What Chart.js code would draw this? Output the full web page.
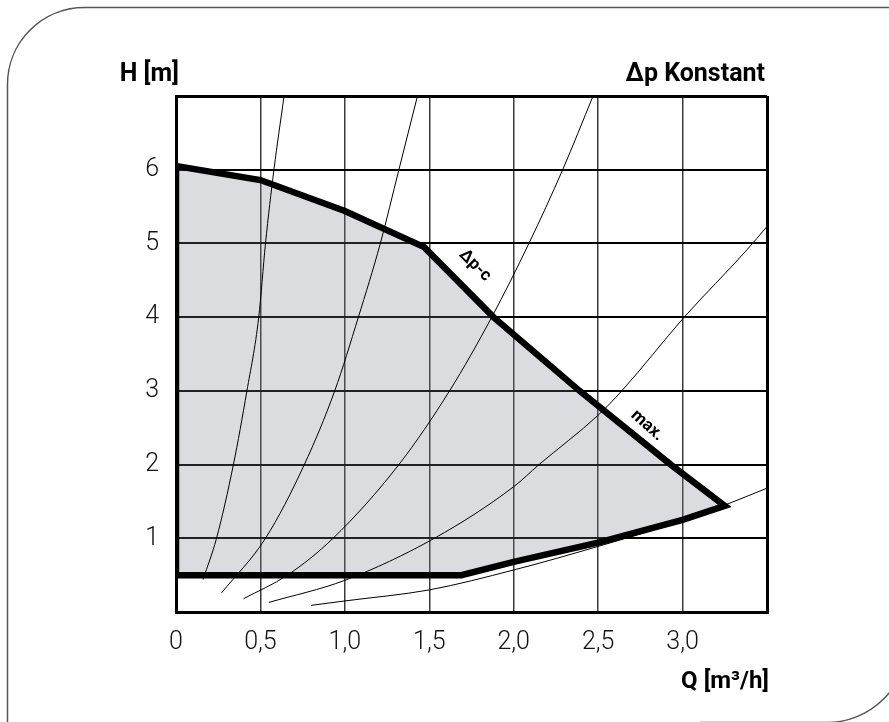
<!DOCTYPE html>
<html lang="de">
<head>
<meta charset="UTF-8">
<title>Δp Konstant</title>
<script src="https://cdn.jsdelivr.net/npm/chart.js"></script>
<style>
  html, body { margin: 0; padding: 0; background: #fff; }
  #wrap { width: 889px; height: 722px; }
</style>
</head>
<body>
<div id="wrap"><canvas id="pumpChart" width="889" height="722"></canvas></div>
<script>
// Kennlinienfeld (Q in m³/h, H in m)
const envelopeQ = [0, 0, 0.5, 1.0, 1.47, 1.88, 2.39, 2.93, 3.25, 3.0, 2.5, 2.0, 1.69, 0];
const envelopeH = [0.5, 6.05, 5.86, 5.44, 4.95, 4.0, 3.0, 2.0, 1.44, 1.25, 0.94, 0.68, 0.5, 0.5];

// Anlagenkennlinien
const curveAQ = [0.16, 0.24, 0.34, 0.42, 0.49, 0.53, 0.58, 0.64];
const curveAH = [0.44, 1.0, 2.0, 3.0, 4.0, 5.0, 6.0, 7.0];
const curveBQ = [0.27, 0.53, 0.76, 0.94, 1.08, 1.21, 1.32, 1.43];
const curveBH = [0.26, 1.0, 2.0, 3.0, 4.0, 5.0, 6.0, 7.0];
const curveCQ = [0.40, 0.66, 0.93, 1.32, 1.62, 1.87, 2.09, 2.29, 2.47];
const curveCH = [0.18, 0.5, 1.0, 2.0, 3.0, 4.0, 5.0, 6.0, 7.0];
const curveDQ = [0.55, 1.0, 1.53, 2.0, 2.15, 2.5, 2.64, 3.01, 3.38, 3.5];
const curveDH = [0.13, 0.43, 1.0, 1.7, 2.0, 2.67, 3.0, 4.0, 4.91, 5.23];
const curveEQ = [0.80, 1.0, 1.5, 2.0, 2.5, 3.0, 3.25, 3.5];
const curveEH = [0.09, 0.15, 0.30, 0.57, 0.89, 1.24, 1.45, 1.68];

const xTicks = [0, 0.5, 1.0, 1.5, 2.0, 2.5, 3.0];
const yTicks = [1, 2, 3, 4, 5, 6];
const curveLabels = ['Δp-c', 'max.'];

const FONT = "Roboto, 'Liberation Sans', sans-serif";

const pts = (qs, hs) => qs.map((q, i) => ({ x: q, y: hs[i] }));
const thin = (qs, hs) => ({
    data: pts(qs, hs),
    borderColor: '#000',
    borderWidth: 1,
    pointRadius: 0,
    fill: false,
    tension: 0.4,
    cubicInterpolationMode: 'monotone',
    order: 2
});

// rounded frame around the whole sheet
const framePlugin = {
    id: 'frame',
    beforeDraw(chart) {
        const c = chart.ctx;
        c.save();
        c.strokeStyle = '#555';
        c.lineWidth = 1.5;
        c.beginPath();
        c.moveTo(7.5, 722);
        c.lineTo(7.5, 84);
        c.arcTo(7.5, 7.5, 84, 7.5, 77);
        c.lineTo(889, 7.5);
        c.stroke();
        c.beginPath();
        c.moveTo(700, 722.5);
        c.lineTo(827, 722.5);
        c.arc(827, 642.5, 80, Math.PI / 2, 0, true);
        c.stroke();
        c.restore();
    }
};

// axis titles and curve names
const textPlugin = {
    id: 'texts',
    afterDatasetsDraw(chart) {
        const c = chart.ctx;
        const a = chart.chartArea;
        const xs = chart.scales.x, ys = chart.scales.y;
        c.save();
        c.fillStyle = '#000';
        c.font = 'bold 25px ' + FONT;
        c.textBaseline = 'alphabetic';
        c.textAlign = 'right';
        c.fillText('H [m]', a.left + 3, 81);
        c.fillText('Δp Konstant', a.right - 2, 81);
        c.font = 'bold 24px ' + FONT;
        c.fillText('Q [m³/h]', a.right + 2, 688);

        const spots = [
            { q: 1.77, h: 4.7, ang: 45 },
            { q: 2.79, h: 2.53, ang: 42 }
        ];
        c.font = 'bold 17px ' + FONT;
        c.textAlign = 'center';
        c.textBaseline = 'middle';
        curveLabels.forEach((t, i) => {
            const s = spots[i];
            c.save();
            c.translate(xs.getPixelForValue(s.q), ys.getPixelForValue(s.h));
            c.rotate(s.ang * Math.PI / 180);
            c.fillText(t, 0, 0);
            c.restore();
        });
        c.restore();
    }
};

const isEdgeX = v => v === 0 || v === 3.5;
const isEdgeY = v => v === 0 || v === 7;

new Chart(document.getElementById('pumpChart'), {
    type: 'line',
    data: {
        datasets: [
            {   // grey field
                data: pts(envelopeQ, envelopeH),
                borderWidth: 0,
                borderColor: 'rgba(0,0,0,0)',
                backgroundColor: 'rgba(120,124,135,0.27)',
                pointRadius: 0,
                fill: 'shape',
                tension: 0,
                order: 3
            },
            thin(curveAQ, curveAH),
            thin(curveBQ, curveBH),
            thin(curveCQ, curveCH),
            thin(curveDQ, curveDH),
            thin(curveEQ, curveEH),
            {   // heavy outline
                data: pts(envelopeQ, envelopeH),
                borderColor: '#000',
                borderWidth: 6.5,
                borderJoinStyle: 'miter',
                pointRadius: 0,
                fill: false,
                tension: 0,
                order: 1
            }
        ]
    },
    options: {
        responsive: false,
        animation: false,
        layout: { padding: { top: 96, right: 122, bottom: 0, left: 0 } },
        plugins: {
            legend: { display: false },
            tooltip: { enabled: false }
        },
        scales: {
            x: {
                type: 'linear',
                min: 0,
                max: 3.5,
                afterFit: s => { s.height = 110; },
                afterBuildTicks: s => { s.ticks = xTicks.concat([3.5]).map(v => ({ value: v })); },
                ticks: {
                    padding: 16,
                    color: '#111',
                    font: { family: FONT, size: 25, weight: '300' },
                    maxRotation: 0,
                    autoSkip: false,
                    callback: v => v === 3.5 ? '' : (v === 0 ? '0' : v.toFixed(1).replace('.', ','))
                },
                grid: {
                    drawTicks: false,
                    color: ctx => isEdgeX(ctx.tick.value) ? '#000' : '#3a3a3a',
                    lineWidth: ctx => isEdgeX(ctx.tick.value) ? 3 : 1.5
                },
                border: { display: true, color: '#000', width: 3 }
            },
            y: {
                type: 'linear',
                min: 0,
                max: 7,
                afterFit: s => { s.width = 176; },
                afterBuildTicks: s => { s.ticks = [0].concat(yTicks, [7]).map(v => ({ value: v })); },
                ticks: {
                    padding: 17,
                    color: '#111',
                    font: { family: FONT, size: 25, weight: '300' },
                    autoSkip: false,
                    callback: v => isEdgeY(v) ? '' : String(v)
                },
                grid: {
                    drawTicks: false,
                    color: '#000',
                    lineWidth: ctx => isEdgeY(ctx.tick.value) ? 3 : 2
                },
                border: { display: true, color: '#000', width: 3 }
            }
        }
    },
    plugins: [framePlugin, textPlugin]
});
</script>
</body>
</html>
